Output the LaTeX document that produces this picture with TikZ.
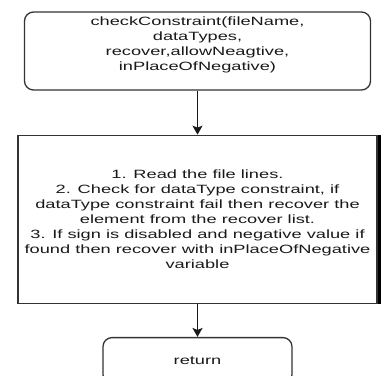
\documentclass[tikz,border=0pt]{standalone}
\usepackage{fontspec}
\setmainfont{Liberation Sans}[FakeStretch=1.52]
\usetikzlibrary{arrows.meta, positioning}
\tikzset{
  startbox/.style ={rectangle, rounded corners=9pt, draw=black!80, line width=1.3pt,
                    minimum width=346pt, minimum height=78pt},
  procbox/.style  ={rectangle, draw=black!80, line width=1.3pt, align=center,
                    minimum width=359pt, minimum height=168pt, inner sep=0pt,
                    text=black!90, font=\fontsize{12}{15}\selectfont},
  endbox/.style   ={rectangle, rounded corners=9pt, draw=black!80, line width=1.3pt,
                    minimum width=189pt, minimum height=46pt,
                    text=black!90, font=\fontsize{12}{15}\selectfont},
  boxtext/.style  ={align=center, inner sep=0pt, text=black!90,
                    font=\fontsize{12}{15}\selectfont},
  flow/.style     ={-{Stealth[length=9pt, width=10pt, inset=2pt]}, line width=1.5pt, draw=black!90},
}

\begin{document}
\begin{tikzpicture}[x=1pt, y=1pt]

  \useasboundingbox (0,0) rectangle (383,-375);
  \clip (0,0) rectangle (383,-375);

  \node[startbox] (check) at (197.5,-51) {};
  \node[boxtext] (checktext) at ([yshift=6.5pt]check.center)
    {checkConstraint(fileName,\\dataTypes,\\recover,allowNeagtive,\\inPlaceOfNegative)};
  \node[procbox, below=44pt of check] (steps)
    {1. Read the file lines.\\
     2. Check for dataType constraint, if\\
     dataType constraint fail then recover the\\
     element from the recover list.\\
     3. If sign is disabled and negative value if\\
     found then recover with inPlaceOfNegative\\
     variable};
  \node[endbox, below=33pt of steps] (ret) {return};

  \fill[black] (steps.north east) rectangle ([xshift=3pt]steps.south east);

  \draw[flow] (check) -- (steps);
  \draw[flow] (steps) -- (ret);

\end{tikzpicture}
\end{document}
